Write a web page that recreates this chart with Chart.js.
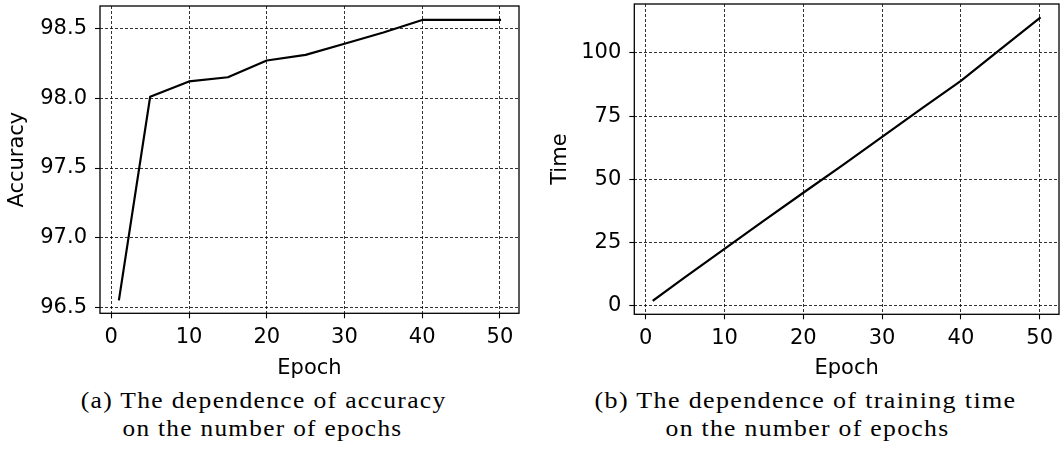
<!DOCTYPE html>
<html>
<head>
<meta charset="utf-8">
<script src="https://cdn.jsdelivr.net/npm/chart.js@4.4.1/dist/chart.umd.min.js"></script>
<style>
  html, body { margin: 0; padding: 0; background: #fff; }
  body { width: 1064px; height: 452px; position: relative; overflow: hidden; }
  canvas { position: absolute; top: 0; }
  #accChart { left: 0; }
  #timeChart { left: 532px; }
  .cap {
    position: absolute;
    font-family: "Liberation Serif", "Times New Roman", serif;
    font-size: 23px;
    line-height: 28px;
    letter-spacing: 1.2px;
    white-space: nowrap;
    color: #000;
    transform-origin: 50% 50%;
  }
</style>
</head>
<body>
<canvas id="accChart" width="532" height="385"></canvas>
<canvas id="timeChart" width="532" height="385"></canvas>

<div class="cap" id="capA1">(a) The dependence of accuracy</div>
<div class="cap" id="capA2">on the number of epochs</div>
<div class="cap" id="capB1">(b) The dependence of training time</div>
<div class="cap" id="capB2">on the number of epochs</div>

<script>
// Training runs: accuracy and wall-clock time per number of epochs
const epochs    = [1, 5, 10, 15, 20, 25, 30, 35, 40, 45, 50];
const accuracy  = [96.56, 98.01, 98.12, 98.15, 98.27, 98.31, 98.39, 98.47, 98.56, 98.56, 98.56];
const trainTime = [2.2, 11.3, 22.5, 33.7, 44.7, 55.6, 66.8, 78.0, 89.0, 101.4, 113.8];

// Tick values for the axes
const epochTicks = [0, 10, 20, 30, 40, 50];
const accTicks   = [96.5, 97.0, 97.5, 98.0, 98.5];
const timeTicks  = [0, 25, 50, 75, 100];

const TEXT_FONT = { family: 'DejaVu Sans', size: 21, lineHeight: 1.2 };
const GRID_COLOR = 'rgba(0,0,0,0.8)';

// Closed black frame around the plotting area
const framePlugin = {
  id: 'frame',
  afterDatasetsDraw(chart) {
    const { ctx, chartArea: a } = chart;
    ctx.save();
    ctx.strokeStyle = '#000';
    ctx.lineWidth = 1.3;
    ctx.strokeRect(a.left, a.top, a.right - a.left, a.bottom - a.top);
    ctx.restore();
  }
};

function makeChart(canvasId, series, yTicks, yTitle, box, yTitlePad, yFormat) {
  const canvas = document.getElementById(canvasId);
  const W = canvas.width, H = canvas.height;
  const yLo = Math.min(...series), yHi = Math.max(...series), ySpan = yHi - yLo;
  const xLo = Math.min(...epochs), xHi = Math.max(...epochs), xSpan = xHi - xLo;

  // dashed grid lines, solid short tick marks outside the frame
  const gridOpts = {
    color: GRID_COLOR,
    lineWidth: 1,
    tickLength: 5,
    tickColor: '#000',
    tickWidth: 1.1,
    tickBorderDash: []
  };
  const borderOpts = { display: false, dash: [3, 2] };

  return new Chart(canvas, {
    type: 'line',
    data: {
      datasets: [{
        data: epochs.map((e, i) => ({ x: e, y: series[i] })),
        borderColor: '#000',
        borderWidth: 2.2,
        pointRadius: 0,
        tension: 0,
        fill: false,
        borderCapStyle: 'square',
        borderJoinStyle: 'round'
      }]
    },
    options: {
      responsive: false,
      animation: false,
      devicePixelRatio: 1,
      layout: { padding: { left: 0, top: box.top, right: W - box.right, bottom: 0 } },
      plugins: { legend: { display: false }, tooltip: { enabled: false } },
      scales: {
        x: {
          type: 'linear',
          position: 'bottom',
          bounds: 'data',
          min: xLo - 0.05 * xSpan,
          max: xHi + 0.05 * xSpan,
          afterBuildTicks: s => { s.ticks = epochTicks.map(v => ({ value: v })); },
          afterFit: s => { s.height = H - box.bottom; s.paddingLeft = 0; s.paddingRight = 0; },
          grid: gridOpts,
          border: borderOpts,
          ticks: {
            font: TEXT_FONT, color: '#000', padding: 7,
            autoSkip: false, maxRotation: 0, minRotation: 0,
            callback: v => String(v)
          },
          title: {
            display: true, text: 'Epoch', font: TEXT_FONT, color: '#000',
            padding: { top: 0, bottom: 4 }
          }
        },
        y: {
          type: 'linear',
          position: 'left',
          bounds: 'data',
          min: yLo - 0.05 * ySpan,
          max: yHi + 0.05 * ySpan,
          afterBuildTicks: s => { s.ticks = yTicks.map(v => ({ value: v })); },
          afterFit: s => { s.width = box.left; s.paddingTop = 0; s.paddingBottom = 0; },
          grid: gridOpts,
          border: borderOpts,
          ticks: {
            font: TEXT_FONT, color: '#000', padding: 8,
            autoSkip: false,
            callback: yFormat
          },
          title: {
            display: true, text: yTitle, font: TEXT_FONT, color: '#000',
            padding: { top: yTitlePad, bottom: 0 }
          }
        }
      }
    },
    plugins: [framePlugin]
  });
}

makeChart('accChart', accuracy, accTicks, 'Accuracy',
  { left: 100, right: 519, top: 6, bottom: 313.3 }, 5, v => v.toFixed(1));
makeChart('timeChart', trainTime, timeTicks, 'Time',
  { left: 102.3, right: 527, top: 4, bottom: 314.3 }, 16, v => String(v));

// Sub-figure captions: centred lines, fitted to the caption block width
const captionLines = [
  { id: 'capA1', cx: 264, w: 366, top: 387 },
  { id: 'capA2', cx: 262, w: 280, top: 415 },
  { id: 'capB1', cx: 806, w: 422, top: 387 },
  { id: 'capB2', cx: 807, w: 284, top: 415 }
];
captionLines.forEach(c => {
  const el = document.getElementById(c.id);
  const natural = el.getBoundingClientRect().width;
  el.style.left = (c.cx - natural / 2) + 'px';
  el.style.top = c.top + 'px';
  el.style.transform = 'scaleX(' + (c.w / natural) + ')';
});
</script>
</body>
</html>
